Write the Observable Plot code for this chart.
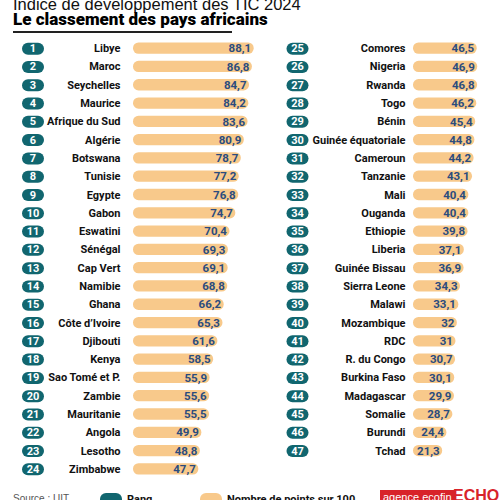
<!DOCTYPE html>
<html>
<head>
<meta charset="utf-8">
<script src="https://cdn.jsdelivr.net/npm/d3@7"></script>
<script src="https://cdn.jsdelivr.net/npm/@observablehq/plot@0.6"></script>
<style>
  html, body { margin: 0; padding: 0; background: #fff; }
  body { width: 500px; height: 500px; overflow: hidden; position: relative; font-family: "Liberation Sans", Arial, sans-serif; }
  #title { position: absolute; left: 13px; top: -6px; font-size: 16.5px; color: #111; white-space: nowrap; line-height: 20px; }
  #subtitle { position: absolute; left: 13px; top: 9px; font-size: 17px; color: #000; white-space: nowrap; font-family: "Roboto", "Liberation Sans", sans-serif; font-weight: 900; line-height: 20px; }
  #rule { position: absolute; left: 13px; top: 31px; width: 219px; height: 2px; background: #222; }
  #chart { position: absolute; left: 0; top: 38px; }
  .foot { position: absolute; top: 493px; white-space: nowrap; font-size: 11px; }
  .pill { position: absolute; top: 493px; width: 22px; height: 12px; border-radius: 6px; }
  .narrow { font-family: "Roboto", sans-serif; font-weight: bold; }
</style>
</head>
<body>
<div id="title">Indice de développement des TIC 2024</div>
<div id="subtitle">Le classement des pays africains</div>
<div id="rule"></div>
<div id="chart"></div>
<div class="foot" style="left:13px;color:#555;font-size:10px;">Source : UIT</div>
<div class="pill" style="left:100px;background:#11666f;"></div>
<div class="foot narrow" style="left:127px;color:#111;">Rang</div>
<div class="pill" style="left:200px;background:#f8c98b;"></div>
<div class="foot narrow" style="left:227px;color:#111;">Nombre de points sur 100</div>
<div class="foot" style="left:380px;top:490px;background:#d8232a;color:#fff;font-size:11px;padding:0 3px;height:14px;line-height:14px;">agence ecofin</div>
<div class="foot" style="left:453px;top:487px;color:#d8232a;font-size:16px;font-weight:bold;">ECHO</div>
<script>
const countries = [
  "Libye","Maroc","Seychelles","Maurice","Afrique du Sud","Algérie","Botswana","Tunisie",
  "Egypte","Gabon","Eswatini","Sénégal","Cap Vert","Namibie","Ghana","Côte d’Ivoire",
  "Djibouti","Kenya","Sao Tomé et P.","Zambie","Mauritanie","Angola","Lesotho","Zimbabwe",
  "Comores","Nigeria","Rwanda","Togo","Bénin","Guinée équatoriale","Cameroun","Tanzanie",
  "Mali","Ouganda","Ethiopie","Liberia","Guinée Bissau","Sierra Leone","Malawi","Mozambique",
  "RDC","R. du Congo","Burkina Faso","Madagascar","Somalie","Burundi","Tchad"
];
const values = [
  88.1,86.8,84.7,84.2,83.6,80.9,78.7,77.2,
  76.8,74.7,70.4,69.3,69.1,68.8,66.2,65.3,
  61.6,58.5,55.9,55.6,55.5,49.9,48.8,47.7,
  46.5,46.9,46.8,46.2,45.4,44.8,44.2,43.1,
  40.4,40.4,39.8,37.1,36.9,34.3,33.1,32,
  31,30.7,30.1,29.9,28.7,24.4,21.3
];
const rowsPerColumn = 24;

const rows = countries.map((country, i) => ({
  rank: i + 1,
  country,
  value: values[i],
  label: String(values[i]).replace(".", ","),
  col: i < rowsPerColumn ? 0 : 1,
  pos: i % rowsPerColumn
}));

const teal = "#11666f";
const orange = "#f8c98b";
const blue = "#2b4c7e";
const font = "Roboto, sans-serif";

const pill = {
  draw(ctx) {
    const w = 11, r = 6;
    ctx.moveTo(-w + r, -r);
    ctx.lineTo(w - r, -r);
    ctx.arc(w - r, 0, r, -Math.PI / 2, Math.PI / 2);
    ctx.lineTo(-w + r, r);
    ctx.arc(-w + r, 0, r, Math.PI / 2, 3 * Math.PI / 2);
    ctx.closePath();
  }
};

// per-column offsets (pixels left of the bar origin)
const layout = [
  {pillDx: -100.5, nameDx: -13},
  {pillDx: -116, nameDx: -8}
];

const colMarks = layout.flatMap((L, c) => {
  const d = rows.filter(r => r.col === c);
  return [
    Plot.dot(d, {x: () => 0, y: "pos", fx: "col", dx: L.pillDx, symbol: pill, r: 6, fill: teal}),
    Plot.text(d, {x: () => 0, y: "pos", fx: "col", dx: L.pillDx, text: "rank", fill: "#fff",
      fontWeight: "bold", fontSize: 11, fontFamily: font}),
    Plot.text(d, {x: () => 0, y: "pos", fx: "col", dx: L.nameDx, text: "country", textAnchor: "end",
      fill: "#111", fontWeight: "bold", fontSize: 11, fontFamily: font})
  ];
});

const chart = Plot.plot({
  width: 500,
  height: 441,
  marginLeft: 133,
  marginRight: 4.8,
  marginTop: 1,
  marginBottom: 1,
  fx: {axis: null, paddingInner: 1 - 82.2 / 280, paddingOuter: 0, round: false},
  x: {domain: [0, 60], axis: null},
  y: {domain: d3.range(rowsPerColumn), axis: null, padding: 0, round: false},
  marks: [
    Plot.barX(rows, {x1: () => 0, x2: "value", y: "pos", fx: "col", fill: orange,
      insetTop: 3.5, insetBottom: 3.5, rx: 5.5}),
    Plot.text(rows, {x: "value", y: "pos", fx: "col", text: "label", textAnchor: "end", dx: -3,
      fill: blue, fontWeight: "bold", fontSize: 11.5, fontFamily: font}),
    ...colMarks
  ]
});
document.getElementById("chart").appendChild(chart);
</script>
</body>
</html>
